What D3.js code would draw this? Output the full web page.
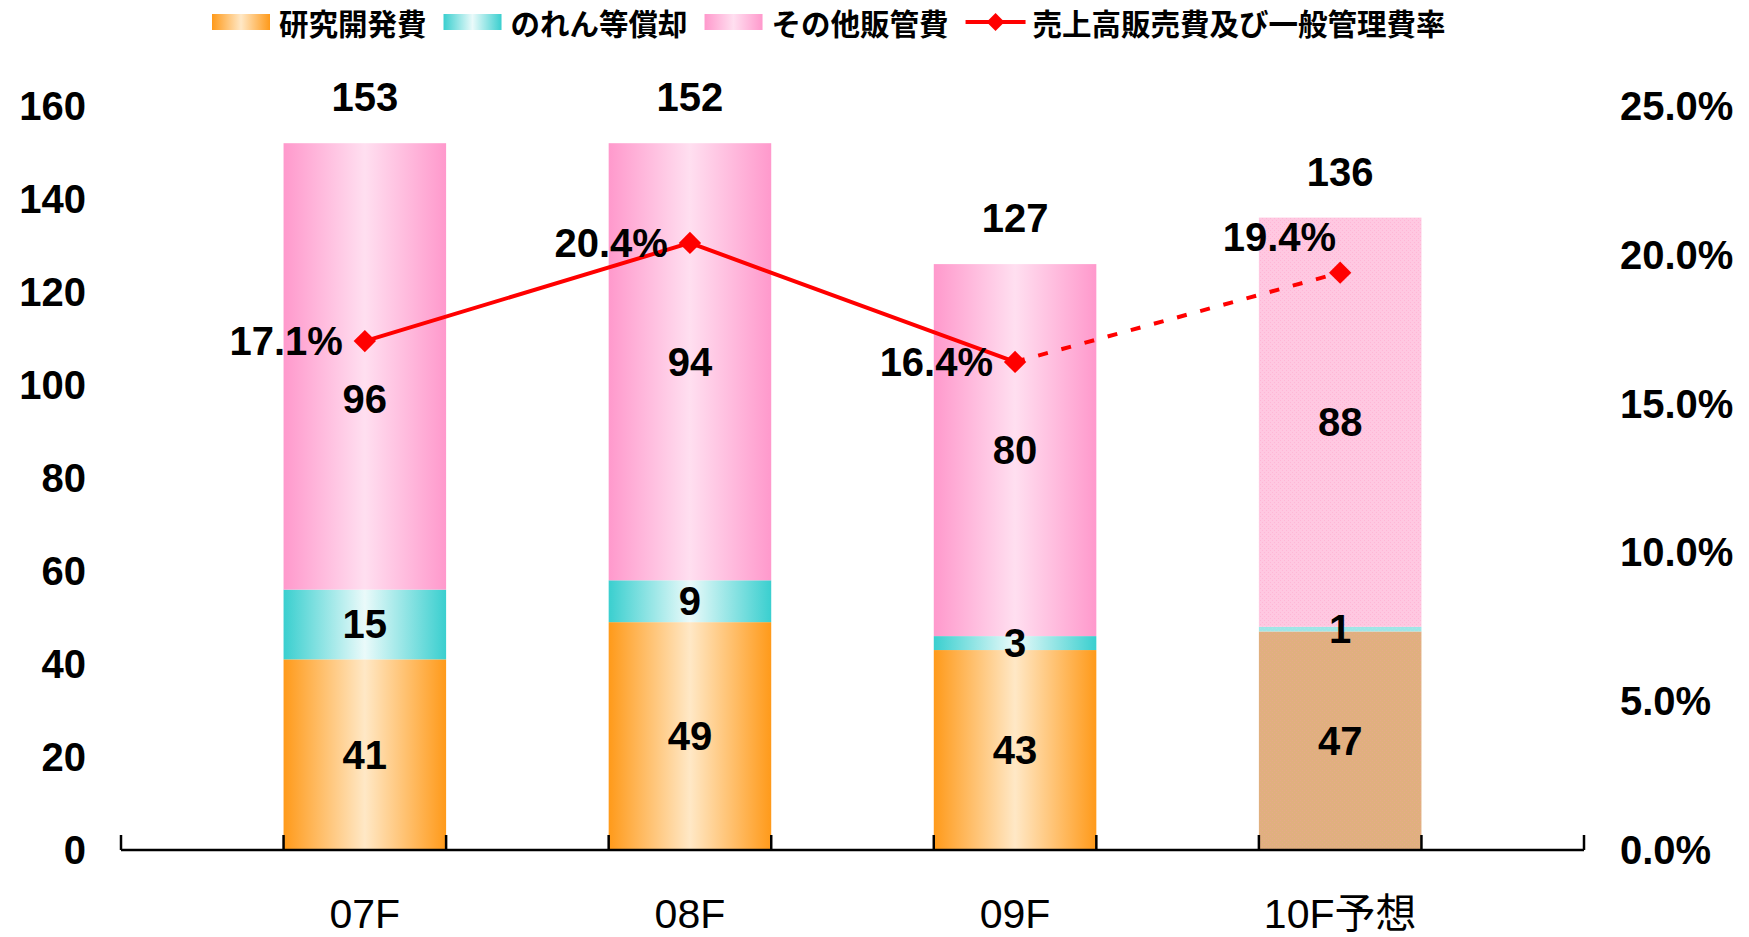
<!DOCTYPE html>
<html lang="ja">
<head>
  <meta charset="UTF-8">
  <title>販管費の推移</title>
  <script src="https://d3js.org/d3.v7.min.js"></script>
  <style>
    body {
      margin: 0;
      background: #fff;
    }
    svg {
      display: block;
    }
    .num {
      font-family: "Liberation Sans", Arial, sans-serif;
      font-weight: bold;
      font-size: 40px;
      fill: #000;
    }
    .cat {
      font-family: "Liberation Sans", Arial, "Noto Sans CJK JP", sans-serif;
      font-size: 41px;
      fill: #000;
    }
    .legend text {
      font-family: "Noto Sans CJK JP", sans-serif;
      font-weight: bold;
      font-size: 29.5px;
      fill: #000;
    }
  </style>
</head>
<body>
<svg width="1749" height="937"></svg>
<script>
  // Data
  const categories = ["07F", "08F", "09F", "10F予想"];
  const rdValues = [41, 49, 43, 47];          // 研究開発費
  const goodwillValues = [15, 9, 3, 1];       // のれん等償却
  const otherValues = [96, 94, 80, 88];       // その他販管費
  const totalLabels = [153, 152, 127, 136];
  const sgaRatio = [17.1, 20.4, 16.4, 19.4];  // 売上高販売費及び一般管理費率 (%)
  const isForecast = [false, false, false, true];
  const seriesNames = ["研究開発費", "のれん等償却", "その他販管費"];
  const lineName = "売上高販売費及び一般管理費率";
  const leftTicks = [0, 20, 40, 60, 80, 100, 120, 140, 160];
  const rightTicks = [0, 5, 10, 15, 20, 25];

  const svg = d3.select("svg");
  const plotLeft = 121, plotRight = 1584, plotBottom = 850, plotTop = 106;

  // Scales
  const x = d3.scaleBand()
    .domain(categories)
    .range([plotLeft, plotRight])
    .paddingInner(0.5)
    .paddingOuter(0.5);
  const y = d3.scaleLinear().domain([0, 160]).range([plotBottom, plotTop]);
  const y2 = d3.scaleLinear().domain([0, 25]).range([plotBottom, plotTop]);

  // Gradients and patterns
  const defs = svg.append("defs");
  const gradColors = [
    ["#ff9a1a", "#ffe8c6"],
    ["#3acfcf", "#eafafa"],
    ["#ff99cc", "#ffdff0"]
  ];
  gradColors.forEach((c, i) => {
    const g = defs.append("linearGradient")
      .attr("id", "grad" + i)
      .attr("x1", "0%").attr("x2", "100%")
      .attr("y1", "0%").attr("y2", "0%");
    g.append("stop").attr("offset", "0%").attr("stop-color", c[0]);
    g.append("stop").attr("offset", "50%").attr("stop-color", c[1]);
    g.append("stop").attr("offset", "100%").attr("stop-color", c[0]);
  });
  // dotted fills for the forecast bar
  const patColors = [
    ["#e0b07f", "#e8a88c"],
    ["#9ee6e6", "#b0e0e6"],
    ["#ffc8e1", "#ffb6d6"]
  ];
  patColors.forEach((c, i) => {
    const p = defs.append("pattern")
      .attr("id", "pat" + i)
      .attr("width", 4).attr("height", 4)
      .attr("patternUnits", "userSpaceOnUse");
    p.append("rect").attr("width", 4).attr("height", 4).attr("fill", c[0]);
    p.append("rect").attr("x", 0).attr("y", 0).attr("width", 1).attr("height", 1).attr("fill", c[1]);
    p.append("rect").attr("x", 2).attr("y", 2).attr("width", 1).attr("height", 1).attr("fill", c[1]);
  });

  // Stack the three cost series
  const rows = categories.map((c, i) => ({
    cat: c, i: i,
    s0: rdValues[i], s1: goodwillValues[i], s2: otherValues[i]
  }));
  const stacked = d3.stack().keys(["s0", "s1", "s2"])(rows);

  const barG = svg.append("g");
  stacked.forEach((layer, k) => {
    barG.selectAll(null)
      .data(layer)
      .join("rect")
      .attr("x", d => x(d.data.cat))
      .attr("width", x.bandwidth())
      .attr("y", d => y(d[1]))
      .attr("height", d => y(d[0]) - y(d[1]))
      .attr("fill", d => isForecast[d.data.i] ? `url(#pat${k})` : `url(#grad${k})`);
  });

  // Ratio points (needed for label collision check too)
  const pts = categories.map((c, i) => ({
    x: x(c) + x.bandwidth() / 2, y: y2(sgaRatio[i]), v: sgaRatio[i], f: isForecast[i]
  }));

  // Segment labels, pushed down when they sit on the ratio label
  function segLabelY(d) {
    let ly = y((d[0] + d[1]) / 2);
    const p = pts[d.data.i];
    if (!p.f && Math.abs(ly - p.y) < 45) ly = p.y + 58;
    return ly;
  }
  stacked.forEach(layer => {
    svg.append("g").selectAll("text")
      .data(layer)
      .join("text")
      .attr("class", "num")
      .attr("text-anchor", "middle")
      .attr("dominant-baseline", "central")
      .attr("x", d => x(d.data.cat) + x.bandwidth() / 2)
      .attr("y", segLabelY)
      .text(d => d[1] - d[0]);
  });

  // Total labels
  svg.append("g").selectAll("text")
    .data(rows)
    .join("text")
    .attr("class", "num")
    .attr("text-anchor", "middle")
    .attr("x", d => x(d.cat) + x.bandwidth() / 2)
    .attr("y", d => y(d.s0 + d.s1 + d.s2) - 32)
    .text(d => totalLabels[d.i]);

  // Category axis line with ticks every half step
  const step = x.step() / 2;
  svg.append("line")
    .attr("x1", plotLeft).attr("x2", plotRight)
    .attr("y1", plotBottom).attr("y2", plotBottom)
    .attr("stroke", "#000").attr("stroke-width", 2.5);
  svg.append("g").selectAll("line")
    .data(d3.range(10))
    .join("line")
    .attr("x1", d => plotLeft + d * step).attr("x2", d => plotLeft + d * step)
    .attr("y1", plotBottom).attr("y2", plotBottom - 15)
    .attr("stroke", "#000").attr("stroke-width", 2.5);

  svg.append("g").selectAll("text")
    .data(categories)
    .join("text")
    .attr("class", "cat")
    .attr("text-anchor", "middle")
    .attr("x", d => x(d) + x.bandwidth() / 2)
    .attr("y", 928)
    .text(d => d);

  // Left and right value labels
  svg.append("g").selectAll("text")
    .data(leftTicks)
    .join("text")
    .attr("class", "num")
    .attr("text-anchor", "end")
    .attr("dominant-baseline", "central")
    .attr("x", 86)
    .attr("y", d => y(d))
    .text(d => d);
  svg.append("g").selectAll("text")
    .data(rightTicks)
    .join("text")
    .attr("class", "num")
    .attr("text-anchor", "start")
    .attr("dominant-baseline", "central")
    .attr("x", 1620)
    .attr("y", d => y2(d))
    .text(d => d.toFixed(1) + "%");

  // Ratio line: solid for actuals, dashed into the forecast
  const line = d3.line().x(d => d.x).y(d => d.y);
  const actualPts = pts.filter(d => !d.f);
  const lastActual = pts.findIndex(d => d.f) - 1;
  const forecastPts = pts.slice(lastActual);
  svg.append("path")
    .attr("d", line(actualPts))
    .attr("fill", "none").attr("stroke", "#ff0000").attr("stroke-width", 4);
  svg.append("path")
    .attr("d", line(forecastPts))
    .attr("fill", "none").attr("stroke", "#ff0000").attr("stroke-width", 4)
    .attr("stroke-dasharray", "10,14");

  const diamond = d3.symbol(d3.symbolSquare, 250);
  svg.append("g").selectAll("path")
    .data(pts)
    .join("path")
    .attr("d", diamond)
    .attr("transform", d => `translate(${d.x},${d.y}) rotate(45)`)
    .attr("fill", "#ff0000");

  svg.append("g").selectAll("text")
    .data(pts)
    .join("text")
    .attr("class", "num")
    .attr("text-anchor", "end")
    .attr("dominant-baseline", d => d.f ? "auto" : "central")
    .attr("x", d => d.f ? d.x - 4 : d.x - 22)
    .attr("y", d => d.f ? d.y - 22 : d.y)
    .text(d => d.v.toFixed(1) + "%");

  // Legend
  const legend = svg.append("g").attr("class", "legend");
  let lx = 212;
  const ly = 22;
  seriesNames.forEach((name, i) => {
    legend.append("rect")
      .attr("x", lx).attr("y", ly - 8)
      .attr("width", 58).attr("height", 16)
      .attr("fill", `url(#grad${i})`);
    const t = legend.append("text")
      .attr("x", lx + 67).attr("y", ly)
      .attr("dominant-baseline", "central")
      .text(name);
    lx += 67 + t.node().getComputedTextLength() + 17;
  });
  legend.append("line")
    .attr("x1", lx).attr("x2", lx + 60)
    .attr("y1", ly).attr("y2", ly)
    .attr("stroke", "#ff0000").attr("stroke-width", 4);
  legend.append("path")
    .attr("d", d3.symbol(d3.symbolSquare, 160))
    .attr("transform", `translate(${lx + 30},${ly}) rotate(45)`)
    .attr("fill", "#ff0000");
  legend.append("text")
    .attr("x", lx + 67).attr("y", ly)
    .attr("dominant-baseline", "central")
    .text(lineName);
</script>
</body>
</html>
